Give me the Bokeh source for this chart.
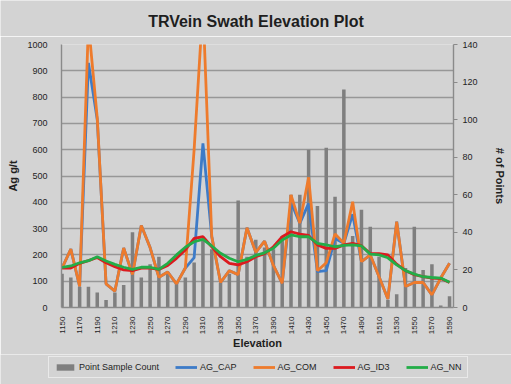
import math
from bokeh.plotting import figure
from bokeh.layouts import column
from bokeh.models import (Range1d, LinearAxis, FixedTicker, Legend, LegendItem,
                          ColumnDataSource, Label)
from bokeh.embed import file_html
from bokeh.resources import INLINE

elevation = [1150, 1160, 1170, 1180, 1190, 1200, 1210, 1220, 1230, 1240,
             1250, 1260, 1270, 1280, 1290, 1300, 1310, 1320, 1330, 1340,
             1350, 1360, 1370, 1380, 1390, 1400, 1410, 1420, 1430, 1440,
             1450, 1460, 1470, 1480, 1490, 1500, 1510, 1520, 1530, 1540,
             1550, 1560, 1570, 1580, 1590]
point_count = [18, 16, 11, 11, 8, 4, 8, 12, 40, 16,
               23, 27, 18, 13, 16, 24, 36, 31, 13, 18,
               57, 27, 36, 32, 31, 38, 60, 60, 84, 54,
               85, 59, 116, 38, 52, 43, 27, 4, 7, 21,
               43, 20, 23, 1, 6]
ag_cap = [150, 222, 80, 930, 715, 90, 62, 226, 125, 312,
          228, 115, 135, 90, 150, 190, 624, 270, 95, 140,
          125, 303, 210, 252, 160, 92, 400, 320, 396, 136,
          140, 262, 244, 355, 174, 200, 117, 32, 326, 80,
          95, 95, 48, 112, 168]
ag_com = [150, 222, 80, 1080, 720, 90, 62, 226, 125, 312,
          228, 115, 135, 90, 150, 600, 1150, 270, 95, 140,
          125, 303, 210, 252, 160, 92, 428, 320, 495, 140,
          170, 280, 244, 402, 174, 200, 117, 32, 326, 80,
          95, 95, 48, 112, 168]
ag_id3 = [150, 150, 168, 178, 190, 170, 155, 143, 140, 150,
          150, 145, 160, 187, 219, 263, 269, 231, 193, 168,
          162, 174, 193, 205, 231, 269, 288, 279, 274, 238,
          225, 225, 238, 244, 235, 205, 205, 200, 165, 140,
          125, 117, 112, 110, 95]
ag_nn = [153, 158, 170, 178, 193, 177, 164, 153, 145, 153,
         153, 145, 168, 200, 229, 250, 259, 234, 206, 187,
         174, 183, 198, 208, 225, 257, 276, 269, 269, 244,
         238, 231, 236, 238, 234, 203, 200, 189, 162, 140,
         127, 117, 114, 112, 96]
left_ticks = [0, 100, 200, 300, 400, 500, 600, 700, 800, 900, 1000]
right_ticks = [0, 20, 40, 60, 80, 100, 120, 140]
x_ticks = [1150, 1170, 1190, 1210, 1230, 1250, 1270, 1290, 1310, 1330, 1350,
           1370, 1390, 1410, 1430, 1450, 1470, 1490, 1510, 1530, 1550, 1570, 1590]
series_names = ["Point Sample Count", "AG_CAP", "AG_COM", "AG_ID3", "AG_NN"]
title_text = "TRVein Swath Elevation Plot"

FONT = "Liberation Sans"
BG = "#d3d3d3"
GRID = "#979797"
AXIS = "#8a8a8a"
TXT = "#1e1e1e"
BAR_C = "#7f7f7f"
LINE_C = ["#3d7bc8", "#ee7b2c", "#dc1a1f", "#23ad48"]
W = 511


def strip(h):
    f = figure(width=W, height=h, output_backend="svg", toolbar_location=None,
               x_axis_type=None, y_axis_type=None, x_range=Range1d(0, 1),
               y_range=Range1d(0, 1), min_border=0, background_fill_color=BG,
               border_fill_color=BG, outline_line_color=None)
    f.xgrid.visible = False
    f.ygrid.visible = False
    return f


src = ColumnDataSource(dict(elev=elevation, cnt=point_count, cap=ag_cap,
                            com=ag_com, id3=ag_id3, nn=ag_nn))

ts = strip(36)
lg = strip(30)

# keep the strips' frames full width (not aligned to the chart frame)
try:
    ts.frame_align = False
    lg.frame_align = False
    FRAME_LEFT = 0
    WIDE = True
except Exception:
    FRAME_LEFT = 61
    WIDE = False

# ---- title strip ----
ts.add_layout(Label(x=255.5 - FRAME_LEFT, y=15, x_units="screen",
                    y_units="screen", text=title_text, text_font=FONT,
                    text_font_size="16px", text_font_style="bold",
                    text_color=TXT, text_align="center",
                    text_baseline="middle"))

# ---- main chart ----
p = figure(width=W, height=318, output_backend="svg", toolbar_location=None,
           x_range=Range1d(1149.4, 1594.5), y_range=Range1d(0, 1000),
           min_border_left=61, min_border_right=58, min_border_top=8,
           min_border_bottom=47, background_fill_color=BG,
           border_fill_color=BG, outline_line_color=None)
p.extra_y_ranges = {"pts": Range1d(0, 140)}

p.xgrid.visible = False
p.ygrid.ticker = FixedTicker(ticks=left_ticks)
p.ygrid.grid_line_color = GRID
p.ygrid.grid_line_width = 1.4

ya = p.yaxis[0]
ya.ticker = FixedTicker(ticks=left_ticks)
ya.axis_label = "Ag g/t"
ya.axis_label_text_font = FONT
ya.axis_label_text_font_style = "bold"
ya.axis_label_text_font_size = "11px"
ya.axis_label_text_color = TXT
ya.axis_label_standoff = 5
ya.major_label_text_font = FONT
ya.major_label_text_font_size = "9px"
ya.major_label_text_color = TXT
ya.major_label_standoff = 8
ya.major_tick_line_color = None
ya.minor_tick_line_color = None
ya.axis_line_color = AXIS
ya.axis_line_width = 1.4

ra = LinearAxis(y_range_name="pts", ticker=FixedTicker(ticks=right_ticks))
ra.axis_label = "# of Points"
ra.axis_label_text_font = FONT
ra.axis_label_text_font_style = "bold"
ra.axis_label_text_font_size = "11px"
ra.axis_label_text_color = TXT
ra.axis_label_standoff = 13
ra.major_label_text_font = FONT
ra.major_label_text_font_size = "9px"
ra.major_label_text_color = TXT
ra.major_label_standoff = 5
ra.major_tick_in = 0
ra.major_tick_out = 4
ra.major_tick_line_color = AXIS
ra.minor_tick_line_color = None
ra.axis_line_color = AXIS
ra.axis_line_width = 1.4
p.add_layout(ra, "right")

xa = p.xaxis[0]
xa.ticker = FixedTicker(ticks=x_ticks)
xa.major_label_orientation = math.pi / 2
xa.major_label_text_font = FONT
xa.major_label_text_font_size = "8px"
xa.major_label_text_color = TXT
xa.major_label_standoff = 3
xa.major_tick_line_color = None
xa.minor_tick_line_color = None
xa.axis_line_color = AXIS
xa.axis_line_width = 1.4
xa.axis_label = "Elevation"
xa.axis_label_text_font = FONT
xa.axis_label_text_font_style = "bold"
xa.axis_label_text_font_size = "11px"
xa.axis_label_text_color = TXT
xa.axis_label_standoff = 0

p.vbar(x="elev", top="cnt", width=4.0, y_range_name="pts", source=src,
       fill_color=BAR_C, line_color=None)
for col, c in zip(["cap", "com", "id3", "nn"], LINE_C):
    p.line("elev", col, source=src, line_color=c, line_width=2.8)

# ---- legend strip (same series; its ranges keep the marks out of view) ----
r_bar = lg.vbar(x="elev", top="cnt", width=4.0, source=src, fill_color=BAR_C,
                line_color=None)
r_lines = [lg.line("elev", col, source=src, line_color=c, line_width=2.8)
           for col, c in zip(["cap", "com", "id3", "nn"], LINE_C)]
items = [LegendItem(label=series_names[0], renderers=[r_bar])]
for name, r in zip(series_names[1:], r_lines):
    items.append(LegendItem(label=name, renderers=[r]))
if WIDE:
    legend = Legend(items=items, orientation="horizontal",
                    location=(48 - FRAME_LEFT, 6))
    legend.label_text_font_size = "9px"
    legend.spacing = 16
    legend.glyph_width = 22
else:
    legend = Legend(items=items, orientation="horizontal", location=(0, 6))
    legend.label_text_font_size = "8.5px"
    legend.spacing = 8
    legend.glyph_width = 18
legend.label_text_font = FONT
legend.label_text_color = TXT
legend.label_standoff = 3
legend.glyph_height = 8
legend.label_height = 10
legend.label_width = 10
legend.padding = 5
legend.margin = 0
legend.border_line_color = "white"
legend.border_line_width = 1.5
legend.background_fill_alpha = 0
lg.add_layout(legend)

layout = column(ts, p, lg, spacing=0)
open("out.html", "w").write(file_html(layout, INLINE))
